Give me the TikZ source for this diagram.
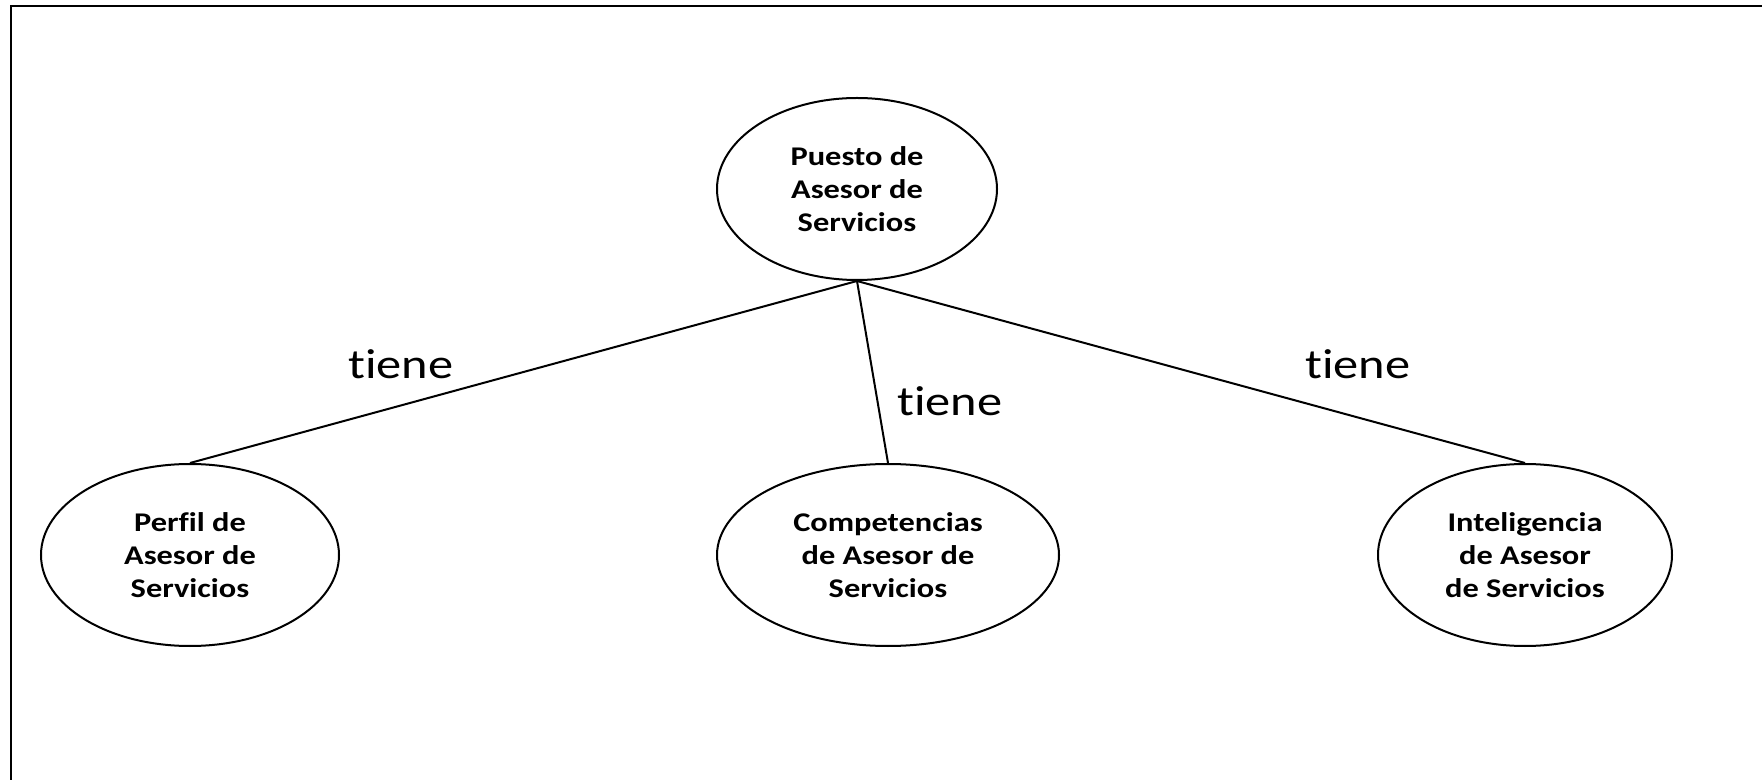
\documentclass[tikz,border=0pt]{standalone}
\usepackage{fontspec}
\setmainfont{Carlito}[FakeStretch=1.2, Ligatures=NoCommon]
\usetikzlibrary{shapes,
	positioning,
	calc}
\tikzstyle{con}=[draw, ellipse, line width=1pt, inner sep=0, align=center,
		minimum height=91pt, font=\bfseries\fontsize{13.5}{16.5}\selectfont]
\tikzstyle{rel}=[inner sep=0, font=\fontsize{21}{24}\selectfont]
\tikzstyle{lnk}=[draw, line width=1pt]

\begin{document}
\begin{tikzpicture}[x=0.5pt, y=-0.5pt]
                \useasboundingbox (0,0) rectangle (1762,780);
                \draw[line width=1pt] (11,780) -- (11,6) -- (1762,6);
                \node[con, minimum width=140pt] (pue) at (857,189) {Puesto de\\Asesor de\\Servicios};
                \node[con, minimum width=149pt] (per) at (190,555) {Perfil de\\Asesor de\\Servicios};
                \node[con, minimum width=171pt] (com) at (888,555) {Competencias\\de Asesor de\\Servicios};
                \node[con, minimum width=147pt] (int) at (1525,555) {Inteligencia\\de Asesor\\de Servicios};
                \draw[lnk] (pue.south) -- (per.north);
                \draw[lnk] (pue.south) -- (com.north);
                \draw[lnk] (pue.south) -- (int.north);
                \node[rel] (t1) at (401,364) {tiene};
                \node[rel] (t2) at (950,401) {tiene};
                \node[rel] (t3) at (1358,364) {tiene};
\end{tikzpicture}
\end{document}
